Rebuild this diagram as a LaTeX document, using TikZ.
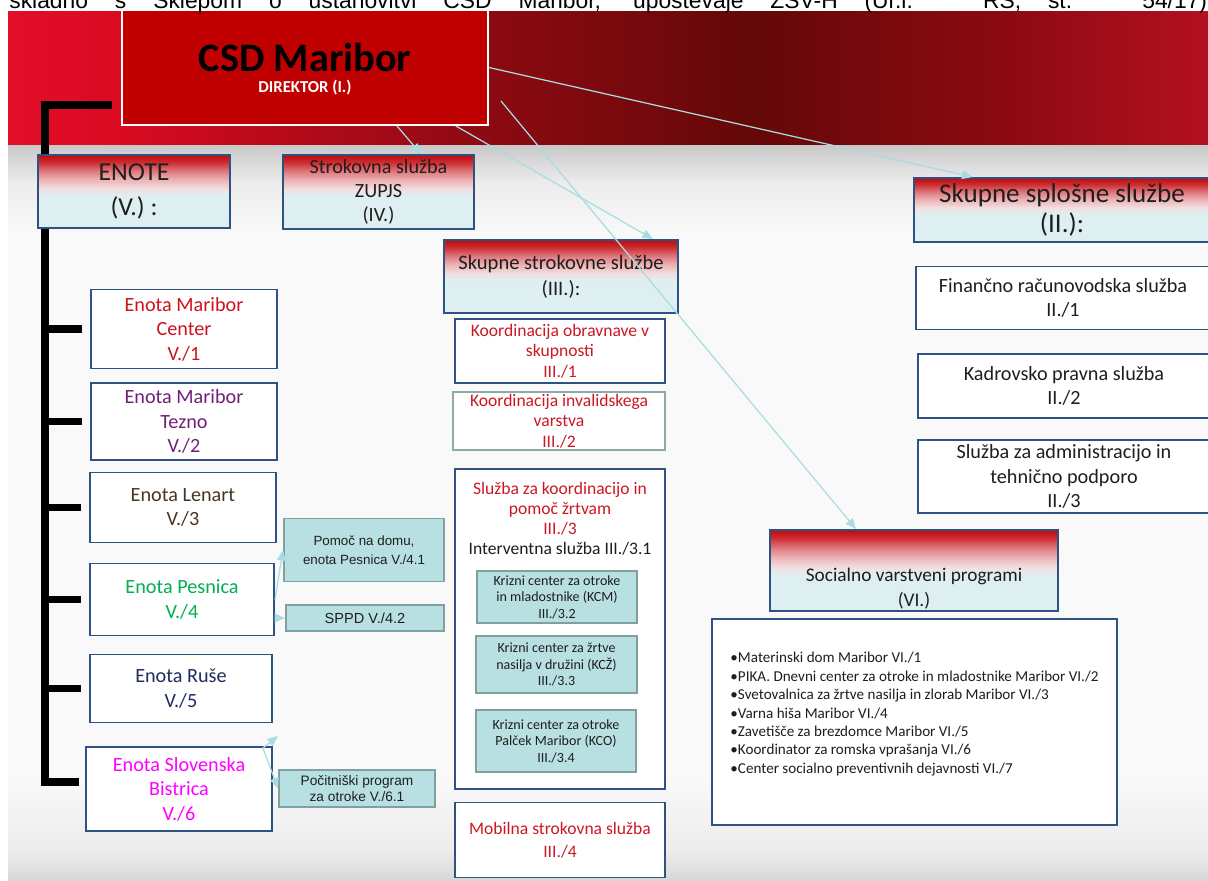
\documentclass[tikz,border=0pt]{standalone}
\usepackage{fontspec}
\setmainfont{Carlito}
\newfontfamily\arialfont{Liberation Sans}
\usepackage{xcolor}
\usetikzlibrary{positioning,calc,arrows.meta}
\definecolor{boxBlue}{RGB}{46,82,130}
\definecolor{tealFill}{RGB}{184,224,226}
\definecolor{tealLine}{RGB}{128,160,160}
\definecolor{greyTeal}{RGB}{140,170,170}
\definecolor{connCyan}{RGB}{168,220,226}
\definecolor{midRed}{RGB}{204,24,36}
\definecolor{csdRed}{RGB}{192,0,0}
\definecolor{txtDark}{RGB}{30,30,30}
\definecolor{cenRed}{RGB}{204,20,30}
\definecolor{teznoPurple}{RGB}{112,32,120}
\definecolor{lenartBrown}{RGB}{70,54,38}
\definecolor{pesnGreen}{RGB}{0,176,80}
\definecolor{ruseNavy}{RGB}{31,45,96}
\definecolor{bistrMagenta}{RGB}{255,0,255}
% barve za senčenje (vidni del senčenja je med 25bp in 75bp)
\definecolor{hdrLow}{RGB}{222,239,241}
\definecolor{hdrPale}{RGB}{242,222,224}
\definecolor{hdrRose}{RGB}{236,180,182}
\definecolor{hdrPink}{RGB}{222,120,125}
\definecolor{hdrRed}{RGB}{205,45,50}
\definecolor{hdrTop}{RGB}{192,10,10}
\definecolor{pgA}{RGB}{215,215,215}
\definecolor{pgB}{RGB}{236,236,236}
\definecolor{pgC}{RGB}{249,249,249}
\definecolor{pgD}{RGB}{200,200,200}
\definecolor{bandA}{RGB}{228,14,42}
\definecolor{bandB}{RGB}{218,10,34}
\definecolor{bandC}{RGB}{140,10,18}
\definecolor{bandD}{RGB}{100,8,8}
\definecolor{bandE}{RGB}{180,16,32}
\pgfdeclareverticalshading{hdrshade}{100bp}{color(0bp)=(hdrLow); color(47bp)=(hdrLow); color(52bp)=(hdrPale); color(58bp)=(hdrRose); color(64bp)=(hdrPink); color(70bp)=(hdrRed); color(75bp)=(hdrTop); color(100bp)=(hdrTop)}
\pgfdeclareverticalshading{pageshade}{100bp}{color(0bp)=(pgA); color(25bp)=(pgA); color(27bp)=(pgB); color(32bp)=(pgC); color(69bp)=(pgC); color(72.5bp)=(pgB); color(75bp)=(pgD); color(100bp)=(pgD)}
\pgfdeclarehorizontalshading{bandshade}{100bp}{color(0bp)=(bandA); color(25bp)=(bandA); color(29.5bp)=(bandB); color(45bp)=(bandC); color(56bp)=(bandD); color(66.5bp)=(bandC); color(75bp)=(bandE); color(100bp)=(bandE)}
\tikzset{
    unitbox/.style={draw=boxBlue, line width=1.1pt, fill=white, align=center, inner sep=1pt, font=\fontsize{11.5}{13.9}\selectfont},
    hdrbox/.style={shading=hdrshade, draw=boxBlue, line width=1.1pt, align=center, inner sep=1pt, text=txtDark},
    subbox/.style={draw=tealLine, line width=1.1pt, fill=tealFill, align=center, inner sep=1pt, text=txtDark},
    conn/.style={draw=connCyan, line width=0.7pt, -{Triangle[length=6pt,width=5pt]}},
    bracket/.style={draw=black, line width=4.5pt, line join=miter}
}

\begin{document}
\begin{tikzpicture}[
        x=0.02cm, y=-0.02cm,
        % glavno polje direktorja
        csdbox/.style={draw=white, line width=1.1pt, fill=csdRed, inner sep=0pt,
            font=\fontsize{23}{23}\selectfont\bfseries, text=black,
            text height=17pt, text depth=12pt},
        dirtxt/.style={font=\fontsize{9.5}{11}\selectfont\bfseries, text=white, inner sep=0pt},
        % sredinski stolpec
        midbox/.style={unitbox, text=midRed, font=\fontsize{10}{11.6}\selectfont},
        kcbox/.style={subbox, font=\fontsize{8}{9.4}\selectfont},
        % desni stolpec
        rightbox/.style={unitbox, text=txtDark, font=\fontsize{11.5}{14}\selectfont},
        % levi podprogrami (Arial)
        armbox/.style={subbox, font=\arialfont\fontsize{7.6}{10.8}\selectfont},
        toptxt/.style={font=\arialfont\fontsize{13}{15}\selectfont, inner sep=0pt, text=black}
    ]
    \useasboundingbox (0,0) rectangle (1208,881);

    % --- OZADJE ---
    \fill[white] (0,0) rectangle (1208,881);
    \shade[shading=pageshade] (8,145) rectangle (1208,881);
    \shade[shading=bandshade] (8,11) rectangle (1208,145);

    % --- DIREKTOR ---
    \node[csdbox, minimum width=7.32cm, minimum height=2.3cm] (csd) at (305,67.5) {CSD Maribor};
    \node[dirtxt, anchor=base] (dir) at ($(csd.center)+(0,25.5)$) {DIREKTOR (I.)};

    % odrezana vrstica besedila nad sliko
    \fill[white] (0,-30) rectangle (1208,11);
    \node[toptxt, anchor=base west] (intro) at (9,9) {\makebox[23.96cm][s]{skladno s Sklepom o ustanovitvi CSD Maribor, upoštevaje ZSV-H (Ur.l. RS, št. 54/17)}};

    % --- ENOTE (V.) ---
    \node[unitbox, text=cenRed, minimum width=3.72cm, minimum height=1.58cm] (u1) at (184,329) {Enota Maribor\\Center\\V./1};
    \node[unitbox, text=teznoPurple, minimum width=3.72cm, minimum height=1.54cm] (u2) at (184,421.5) {Enota Maribor\\Tezno\\V./2};
    \node[unitbox, text=lenartBrown, minimum width=3.72cm, minimum height=1.4cm] (u3) at (183,507.5) {Enota Lenart\\V./3};
    \node[unitbox, text=pesnGreen, minimum width=3.68cm, minimum height=1.44cm] (u4) at (182,599.5) {Enota Pesnica\\V./4};
    \node[unitbox, text=ruseNavy, minimum width=3.64cm, minimum height=1.36cm] (u5) at (181,688.5) {Enota Ruše\\V./5};
    \node[unitbox, text=bistrMagenta, minimum width=3.72cm, minimum height=1.68cm] (u6) at (179,789) {Enota Slovenska\\Bistrica\\V./6};

    % črni oklepaj
    \coordinate (brtop) at (112,105);
    \coordinate (spine) at (45,105);
    \draw[bracket] (brtop) -- (spine) -- ($(spine |- u6.west)+(0,-7)$) -- ($(u6.west)+(-6,-7)$);
    \foreach \u in {u1,u2,u3,u4,u5}
        \draw[bracket] (spine |- \u.west) -- ($(\u.west)+(-8,0)$);

    \node[hdrbox, minimum width=3.84cm, minimum height=1.46cm, font=\fontsize{14.7}{19.5}\selectfont] (enote) at (134,191.5) {ENOTE\\(V.) :};
    \node[hdrbox, minimum width=3.82cm, minimum height=1.48cm, font=\fontsize{11.5}{13.6}\selectfont] (zupjs) at (378.5,192) {Strokovna služba\\ZUPJS\\(IV.)};

    % podprogrami enot
    \node[armbox, minimum width=3.2cm, minimum height=1.26cm] (pomoc) at (364,550) {Pomoč na domu,\\enota Pesnica V./4.1};
    \node[armbox, minimum width=3.16cm, minimum height=0.52cm, font=\arialfont\fontsize{8.3}{10}\selectfont] (sppd) at (365,618) {SPPD V./4.2};
    \node[armbox, minimum width=3.12cm, minimum height=0.74cm, font=\arialfont\fontsize{7.8}{9.1}\selectfont] (pocit) at (357,788.5) {Počitniški program\\za otroke V./6.1};

    % --- SKUPNE STROKOVNE SLUŽBE (III.) ---
    \node[hdrbox, minimum width=4.68cm, minimum height=1.46cm, font=\fontsize{11.7}{14.7}\selectfont] (strokovne) at (561,276.5) {Skupne strokovne službe\\(III.):};
    \node[midbox, minimum width=4.2cm, minimum height=1.28cm] (k1) at (560,351) {Koordinacija obravnave v\\skupnosti\\III./1};
    \node[midbox, draw=greyTeal, minimum width=4.24cm, minimum height=1.12cm] (k2) at (559,421) {Koordinacija invalidskega\\varstva\\III./2};
    \node[unitbox, minimum width=4.2cm, minimum height=6.4cm] (zrtve) at (560,629) {};
    \node[align=center, inner sep=0pt, text=midRed, font=\fontsize{10}{11.3}\selectfont] (zrtvetxt) at (560,519) {Služba za koordinacijo in\\pomoč žrtvam\\III./3\\\textcolor{txtDark}{Interventna služba III./3.1}};
    \node[kcbox, minimum width=3.2cm, minimum height=1.04cm] (kcm) at (557,597) {Krizni center za otroke\\in mladostnike (KCM)\\III./3.2};
    \node[kcbox, minimum width=3.22cm, minimum height=1.14cm] (kcz) at (556.5,664.5) {Krizni center za žrtve\\nasilja v družini (KCŽ)\\III./3.3};
    \node[kcbox, minimum width=3.2cm, minimum height=1.24cm] (kco) at (556,741) {Krizni center za otroke\\Palček Maribor (KCO)\\III./3.4};
    \node[midbox, minimum width=4.2cm, minimum height=1.5cm, font=\fontsize{10}{13}\selectfont] (mobilna) at (560,840) {Mobilna strokovna služba\\III./4};

    % --- SKUPNE SPLOŠNE SLUŽBE (II.) ---
    \node[hdrbox, minimum width=5.92cm, minimum height=1.28cm, font=\fontsize{15.4}{17}\selectfont] (splosne) at (1062,210) {Skupne splošne službe\\(II.):};
    \node[rightbox, minimum width=5.88cm, minimum height=1.26cm] (fin) at (1063,298) {Finančno računovodska služba\\II./1};
    \node[rightbox, minimum width=5.84cm, minimum height=1.28cm] (kad) at (1064,386) {Kadrovsko pravna služba\\II./2};
    \node[rightbox, minimum width=5.84cm, minimum height=1.46cm] (adm) at (1064,476.5) {Služba za administracijo in\\tehnično podporo\\II./3};

    % --- SOCIALNO VARSTVENI PROGRAMI (VI.) ---
    \node[hdrbox, minimum width=5.76cm, minimum height=1.62cm, font=\fontsize{11}{14.2}\selectfont] (socprog) at (914,570.5) {\mbox{}\\[14pt]Socialno varstveni programi\\(VI.)};
    \node[unitbox, align=left, text=txtDark, minimum width=8.1cm, minimum height=4.12cm, font=\fontsize{8.6}{10.5}\selectfont] (list) at (914.5,722) {%
        \textbullet{}Materinski dom Maribor VI./1\\
        \textbullet{}PIKA. Dnevni center za otroke in mladostnike Maribor VI./2\\
        \textbullet{}Svetovalnica za žrtve nasilja in zlorab Maribor VI./3\\
        \textbullet{}Varna hiša Maribor VI./4\\
        \textbullet{}Zavetišče za brezdomce Maribor VI./5\\
        \textbullet{}Koordinator za romska vprašanja VI./6\\
        \textbullet{}Center socialno preventivnih dejavnosti VI./7\\
        \mbox{}};

    % --- POVEZAVE ---
    \coordinate (a4start) at ($(csd.south east)+(12,-25)$);
    \draw[conn] (csd.east) -- ($(splosne.north west)!0.2!(splosne.north east)$);
    \draw[conn] ($(csd.south west)!0.75!(csd.south east)$) -- ($(zupjs.north west)!0.72!(zupjs.north east)$);
    \draw[conn] ($(csd.south west)!0.91!(csd.south east)$) -- ($(strokovne.north west)!0.89!(strokovne.north east)$);
    \draw[conn] (a4start) -- ($(socprog.north west)!0.3!(socprog.north east)$);
    \draw[conn] (u4.east) -- (pomoc.west);
    \draw[conn] (u4.east |- sppd.west) -- (sppd.west);
    \coordinate (bj) at ($(u6.north east)+(-10,2)$);
    \draw[conn] (bj) -- (pocit.west);
    \draw[conn] (bj) -- ++(15,-12);

\end{tikzpicture}
\end{document}
